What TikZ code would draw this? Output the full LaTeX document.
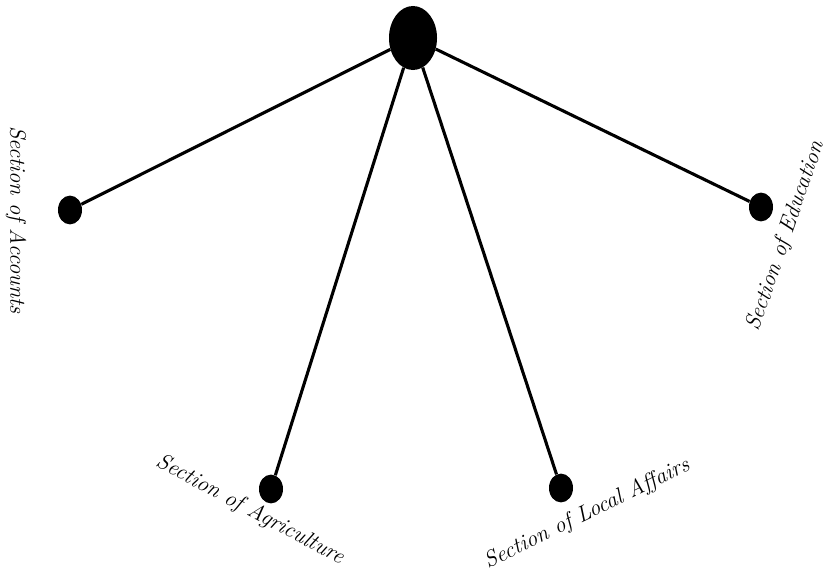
\documentclass[tikz,border=0pt]{standalone}
\usepackage{tikz}
\usetikzlibrary{shapes.geometric}

\begin{document}
\begin{tikzpicture}[x=0.025cm, y=-0.025cm,
    hub/.style={ellipse, fill=black, minimum width=1.2cm, minimum height=1.6cm, inner sep=0pt},
    dot/.style={ellipse, fill=black, minimum width=0.6cm, minimum height=0.72cm, inner sep=0pt},
    link/.style={line width=2.2pt},
    lbl/.style={font=\fontsize{16}{19}\selectfont\itshape, inner sep=0pt}]
  \useasboundingbox (0,0) rectangle (826,576);
  \node[hub] (root) at (413,38) {};
  \node[dot] (accounts) at (70,210) {};
  \node[dot] (agriculture) at (271,489) {};
  \node[dot] (localaff) at (561,488) {};
  \node[dot] (education) at (761,207) {};
  \draw[link] (root) -- (accounts);
  \draw[link] (root) -- (agriculture);
  \draw[link] (root) -- (localaff);
  \draw[link] (root) -- (education);
  \node[lbl, rotate=-90] (accountslbl) at (16,220) {Section of Accounts};
  \node[lbl, rotate=-28] (agriculturelbl) at (250,510) {Section of Agriculture};
  \node[lbl, rotate=26] (localafflbl) at (587,514) {Section of Local Affairs};
  \node[lbl, rotate=71] (educationlbl) at (786,236) {Section of Education};
\end{tikzpicture}
\end{document}
